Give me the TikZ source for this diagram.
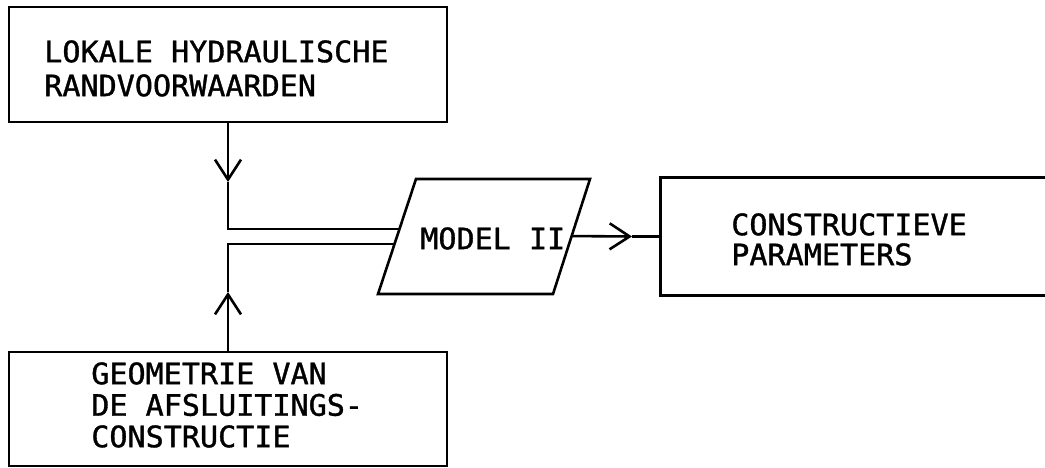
\documentclass[tikz,border=0pt]{standalone}
\usepackage{fontspec}
\usetikzlibrary{arrows.meta,calc}
\newfontfamily\plotfont[FakeStretch=1.02,FakeBold=1.2]{DejaVu Sans Mono}
\begin{document}
\begin{tikzpicture}[x=1pt,y=-1pt,line width=2.6pt,
  boxst/.style={draw,rectangle,inner sep=0pt},
  txt/.style={inner sep=0pt,anchor=north west,align=left,font=\plotfont\fontsize{29.5}{33}\selectfont},
  barb/.style={-{Straight Barb[length=20pt,width=26pt,line width=2.6pt]}}]
\useasboundingbox (0,0) rectangle (1045,467);
% boxes
\node[boxst,minimum width=438pt,minimum height=115pt] (top) at (228,64.5) {};
\node[boxst,minimum width=438pt,minimum height=114pt] (bot) at (228,409) {};
\node[inner sep=0pt,minimum width=384pt,minimum height=115pt] (right) at (854,236.5) {};
\draw (right.north east) -- (right.north west) -- (right.south west) -- (right.south east);
% parallelogram
\coordinate (bl) at (378,294);
\coordinate (br) at (553,294);
\coordinate (tr) at (590,179);
\coordinate (tl) at (416,179);
\draw (bl) -- (br) -- (tr) -- (tl) -- cycle;
\node[txt,font=\plotfont\fontsize{29.5}{33}\selectfont] (model) at (419,226) {MODEL II};
% texts
\node[txt,font=\plotfont\fontsize{29.5}{34}\selectfont] (ttop) at (43,39) {LOKALE HYDRAULISCHE\\RANDVOORWAARDEN};
\node[txt,font=\plotfont\fontsize{29.5}{31.5}\selectfont] (tbot) at (90,361) {GEOMETRIE VAN\\DE AFSLUITINGS-\\CONSTRUCTIE};
\node[txt,font=\plotfont\fontsize{29.5}{30}\selectfont] (tright) at (730,212) {CONSTRUCTIEVE\\PARAMETERS};
% connection points
\coordinate (pin1) at ($(bl)!0.565!(tl)$);
\coordinate (pin2) at ($(bl)!0.435!(tl)$);
\coordinate (pout) at ($(br)!0.504!(tr)$);
\coordinate (dtip) at (228,182);
\coordinate (utip) at (228,292);
\coordinate (rtip) at (632,236.5);
% connectors
\draw[barb] (top.south) -- (dtip);
\draw (dtip) |- (pin1);
\draw[barb] (bot.north) -- (utip);
\draw (utip) |- (pin2);
\draw[barb] (pout) -- (rtip);
\draw (rtip) -- (right.west);
\end{tikzpicture}
\end{document}
